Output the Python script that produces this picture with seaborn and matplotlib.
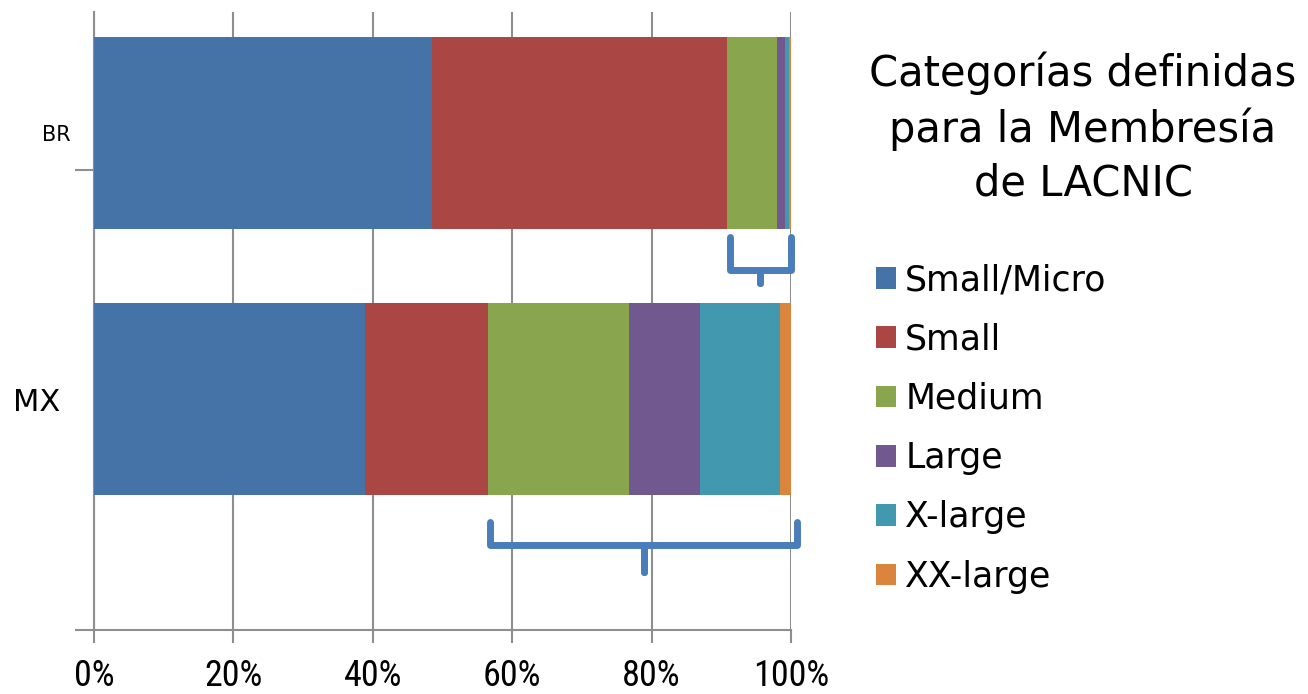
import numpy as np
import pandas as pd
import matplotlib
matplotlib.use("Agg")
import matplotlib.pyplot as plt
import matplotlib.transforms as mtransforms
import seaborn as sns
from matplotlib.patches import Patch
from matplotlib import font_manager

countries = ["BR", "MX"]
categories = ["Small/Micro", "Small", "Medium", "Large", "X-large", "XX-large"]
small_micro = [48.5, 38.9]
small = [42.3, 17.6]
medium = [7.2, 20.3]
large = [1.1, 10.1]
x_large = [0.6, 11.5]
xx_large = [0.3, 1.6]
x_tick_labels = ["0%", "20%", "40%", "60%", "80%", "100%"]
title_text = "Categorías definidas\npara la Membresía\nde LACNIC"

colors = ["#4572A7", "#AA4643", "#89A54E", "#71588F", "#4198AF", "#DB843D"]

sns.set_theme(style="white")
plt.rcParams["font.family"] = ["DejaVu Sans"]
plt.rcParams["text.color"] = "black"
plt.rcParams["xtick.color"] = "black"
plt.rcParams["ytick.color"] = "black"

names = {f.name for f in font_manager.fontManager.ttflist}
narrow_candidates = ["Liberation Sans Narrow", "DejaVu Sans Condensed", "Roboto Condensed", "Open Sans Condensed"]
narrow = next((n for n in narrow_candidates if n in names), None)

series = [small_micro, small, medium, large, x_large, xx_large]
df = pd.DataFrame({"country": countries})
for name, vals in zip(categories, series):
    df[name] = vals
cum = df[categories].cumsum(axis=1)
for name in categories:
    df["cum_" + name] = cum[name]

fig = plt.figure(figsize=(13.08, 6.94), dpi=100)
ax = fig.add_axes([94 / 1308, 64 / 694, 697 / 1308, 618 / 694])

bar_w = 0.72
for name, col in reversed(list(zip(categories, colors))):
    sns.barplot(data=df, x="cum_" + name, y="country", color=col,
                orient="h", width=bar_w, ax=ax, saturation=1,
                linewidth=0, zorder=3)

ax.set_xlim(0, 100)
ax.set_ylim(1.868, -0.455)
ax.set_xlabel("")
ax.set_ylabel("")

gcol = "#8E8E8E"
ax.set_xticks([0, 20, 40, 60, 80, 100])
if narrow:
    ax.set_xticklabels(x_tick_labels, family=[narrow, "DejaVu Sans"], fontsize=26, color="black")
else:
    ax.set_xticklabels(x_tick_labels, family=["DejaVu Sans"], fontstretch="condensed", fontsize=22, color="black")
ax.xaxis.grid(True, color=gcol, linewidth=1.5, zorder=0)
ax.yaxis.grid(False)
ax.tick_params(axis="x", which="major", direction="out", length=9, width=1.5, color=gcol, pad=11, bottom=True)
for s in ["top", "right"]:
    ax.spines[s].set_visible(False)
for s in ["left", "bottom"]:
    ax.spines[s].set_color(gcol)
    ax.spines[s].set_linewidth(1.5)

ax.set_yticks([0, 1])
ax.set_yticklabels(countries, color="black")
ylabels = ax.get_yticklabels()
ylabels[0].set_fontsize(15)
ylabels[1].set_fontsize(22)
ax.tick_params(axis="y", which="major", length=0, pad=24, left=False)
ylabels[0].set_transform(ylabels[0].get_transform() +
                         mtransforms.ScaledTranslation(10 / 100, 0, fig.dpi_scale_trans))
ax.set_yticks([0.139, 1.868], minor=True)
ax.tick_params(axis="y", which="minor", direction="out", length=14, width=1.5, color=gcol, left=True)

# Braces highlighting medium-and-larger categories
brace_col = "#4A7EBB"
def brace(x0, x1, ytop, ymid, ytip):
    xm = (x0 + x1) / 2
    xs = [x0, x0, xm - 0.3, xm, xm, xm, xm + 0.3, x1, x1]
    ys = [ytop, ymid, ymid, ymid, ytip, ymid, ymid, ymid, ytop]
    ax.plot(xs, ys, color=brace_col, lw=5, solid_joinstyle="round",
            solid_capstyle="round", clip_on=False, zorder=4)

br_start = df.loc[0, "cum_Small"]
mx_start = df.loc[1, "cum_Small"]
brace(br_start + 0.4, 100, 0.391, 0.515, 0.564)
brace(mx_start + 0.3, 100.9, 1.462, 1.549, 1.650)

fig.text(1083 / 1308, 1 - 128 / 694, title_text, ha="center", va="center",
         fontsize=30, linespacing=1.36, color="black")

handles = [Patch(facecolor=c, edgecolor="none") for c in colors]
leg = fig.legend(handles, categories, loc="upper left",
                 bbox_to_anchor=(876 / 1308, 1 - 263 / 694), frameon=False,
                 fontsize=25, handlelength=0.58, handleheight=0.58,
                 handletextpad=0.26, labelspacing=0.73, borderpad=0,
                 borderaxespad=0)
for t in leg.get_texts():
    t.set_color("black")

fig.savefig("out.png", dpi=100)
